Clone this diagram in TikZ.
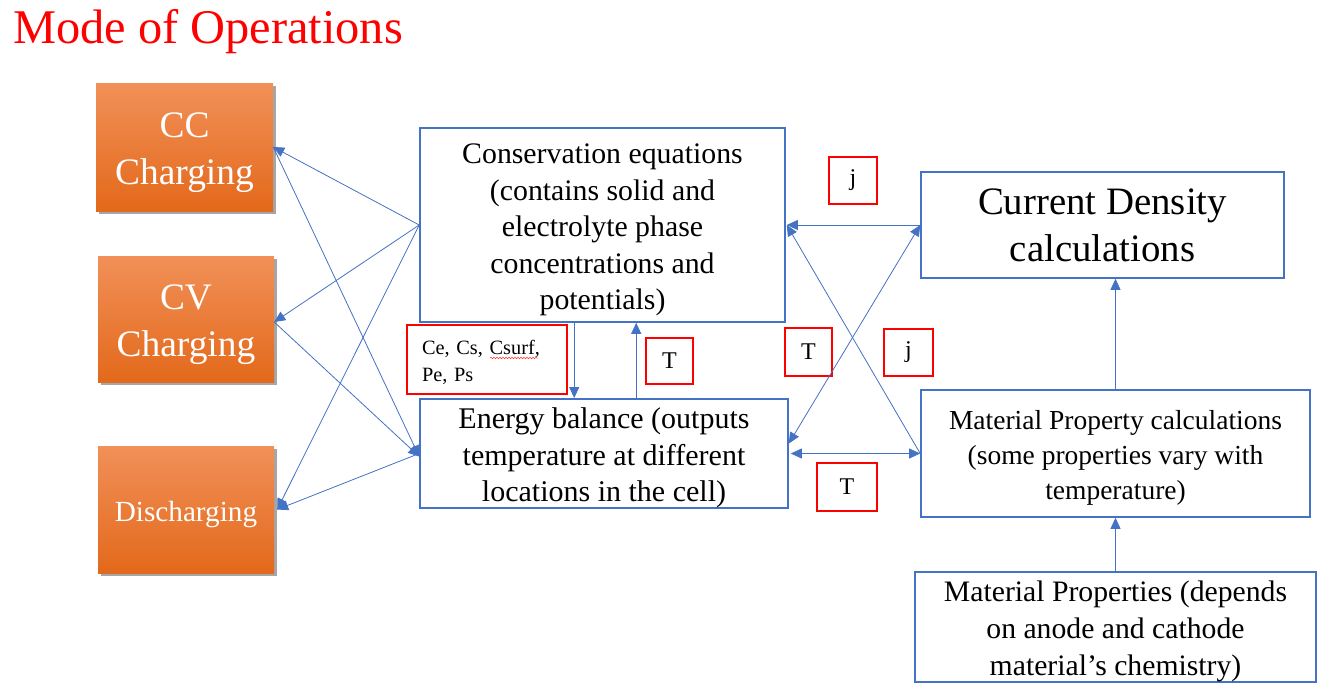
\documentclass[tikz,border=0pt]{standalone}
\usepackage{fontspec}
\setmainfont{Liberation Serif}
\usetikzlibrary{arrows.meta,shadows,calc,decorations.pathmorphing}
\definecolor{bl}{HTML}{4472C4}
\definecolor{otop}{HTML}{F19058}
\definecolor{omid}{HTML}{F47B27}
\definecolor{obot}{HTML}{E3691B}
\newcommand\tfix[1]{\rule{0pt}{#1}}
\begin{document}
\begin{tikzpicture}[x=1pt,y=-1pt,
  bbox/.style={draw=bl,line width=1.6pt,inner sep=0pt,align=center},
  rbox/.style={draw=red,line width=1.5pt,inner sep=0pt,align=center,font=\fontsize{24}{28}\selectfont},
  obox/.style={top color=otop,middle color=omid,bottom color=obot,draw=none,text=white,inner sep=0pt,align=center,
    drop shadow={shadow xshift=3pt,shadow yshift=-3pt,opacity=0.35,fill=black}},
  arr/.style={draw=bl,line width=0.8pt,-{Triangle[length=11pt,width=10pt]}},
  darr/.style={draw=bl,line width=0.8pt,{Triangle[length=11pt,width=10pt]}-{Triangle[length=11pt,width=10pt]}}
]
\useasboundingbox (0,0) rectangle (1321,688);
\fill[white] (0,0) rectangle (1321,688);

\node[text=red,font=\fontsize{48.4}{52}\selectfont,anchor=west,inner sep=0pt] (title) at (13,32) {Mode of Operations};

% orange mode boxes
\node[obox,minimum width=177pt,minimum height=128pt,font=\fontsize{37.4}{47}\selectfont] (cc) at (184.5,147) {\tfix{37pt}CC\\Charging};
\node[obox,minimum width=176pt,minimum height=126pt,font=\fontsize{37.4}{47}\selectfont] (cv) at (186,319) {\tfix{37pt}CV\\Charging};
\node[obox,minimum width=176pt,minimum height=127pt,font=\fontsize{29.2}{34}\selectfont] (dis) at (186,509.5) {\tfix{30pt}Discharging};

% blue boxes
\node[bbox,minimum width=365pt,minimum height=194pt,font=\fontsize{29.8}{36.5}\selectfont] (cons) at (602.5,225) {\tfix{30pt}Conservation equations\\(contains solid and\\electrolyte phase\\concentrations and\\potentials)};
\node[bbox,minimum width=368pt,minimum height=107pt,font=\fontsize{30}{36.5}\selectfont] (en) at (604,453.5) {\tfix{30pt}Energy balance (outputs\\temperature at different\\locations in the cell)};
\node[bbox,minimum width=363pt,minimum height=106pt,font=\fontsize{38.8}{47}\selectfont] (cd) at (1102.5,225) {Current Density\\calculations};
\node[bbox,minimum width=389pt,minimum height=127pt,font=\fontsize{27.5}{35}\selectfont] (mpc) at (1115.5,453.5) {\tfix{28pt}Material Property calculations\\(some properties vary with\\temperature)};
\node[bbox,minimum width=401pt,minimum height=108pt,font=\fontsize{29.7}{37}\selectfont] (mp) at (1115.5,627) {\tfix{30pt}Material Properties (depends\\on anode and cathode\\material’s chemistry)};

% red label boxes
\node[rbox,minimum width=160pt,minimum height=69pt,text width=130pt,align=left,font=\fontsize{20.3}{27}\selectfont] (ce) at (487,359.5) {\tfix{20pt}Ce, Cs, Csurf,\\Pe, Ps};
\node[rbox,minimum width=47pt,minimum height=46pt] (t3) at (669.5,361) {T};
\node[rbox,minimum width=48pt,minimum height=47pt] (j1) at (853,180.5) {j};
\node[rbox,minimum width=47pt,minimum height=48pt] (t1) at (808.5,352) {T};
\node[rbox,minimum width=49pt,minimum height=47pt] (j2) at (908.5,352.5) {j};
\node[rbox,minimum width=60pt,minimum height=48pt] (t2) at (847,487) {T};

% spell-check underline
\draw[red!80,line width=0.5pt,decorate,decoration={snake,amplitude=0.8pt,segment length=3pt}] (490,358) -- (538,358);

% connectors, left side
\draw[arr] (cons.west) -- (cc.east);
\draw[arr] (cons.west) -- ([yshift=-3pt]cv.east);
\draw[arr] (cons.west) -- ([xshift=3pt]dis.east);
\draw[arr] (en.west) -- ([xshift=3pt]dis.east);
\draw[arr] (cc.east) -- ([yshift=-3pt]en.west);
\draw[arr] ([yshift=-3pt]cv.east) -- ([yshift=-3pt]en.west);

% between conservation and energy
\draw[arr] ([xshift=155pt]cons.south west) -- ([xshift=155pt]en.north west);
\draw[arr] ([xshift=217pt]en.north west) -- ([xshift=217pt]cons.south west);

% right side
\draw[arr] (cd.west) -- ([xshift=1pt]cons.east);
\draw[arr] (mpc.west) -- ([xshift=1pt]cons.east);
\draw[darr] ([yshift=10pt]en.east) -- (cd.west);
\draw[darr] ([xshift=2pt]en.east) -- (mpc.west);
\draw[arr] (mpc.north) -- (mpc.north |- cd.south);
\draw[arr] (mp.north) -- (mpc.south);
\end{tikzpicture}
\end{document}
